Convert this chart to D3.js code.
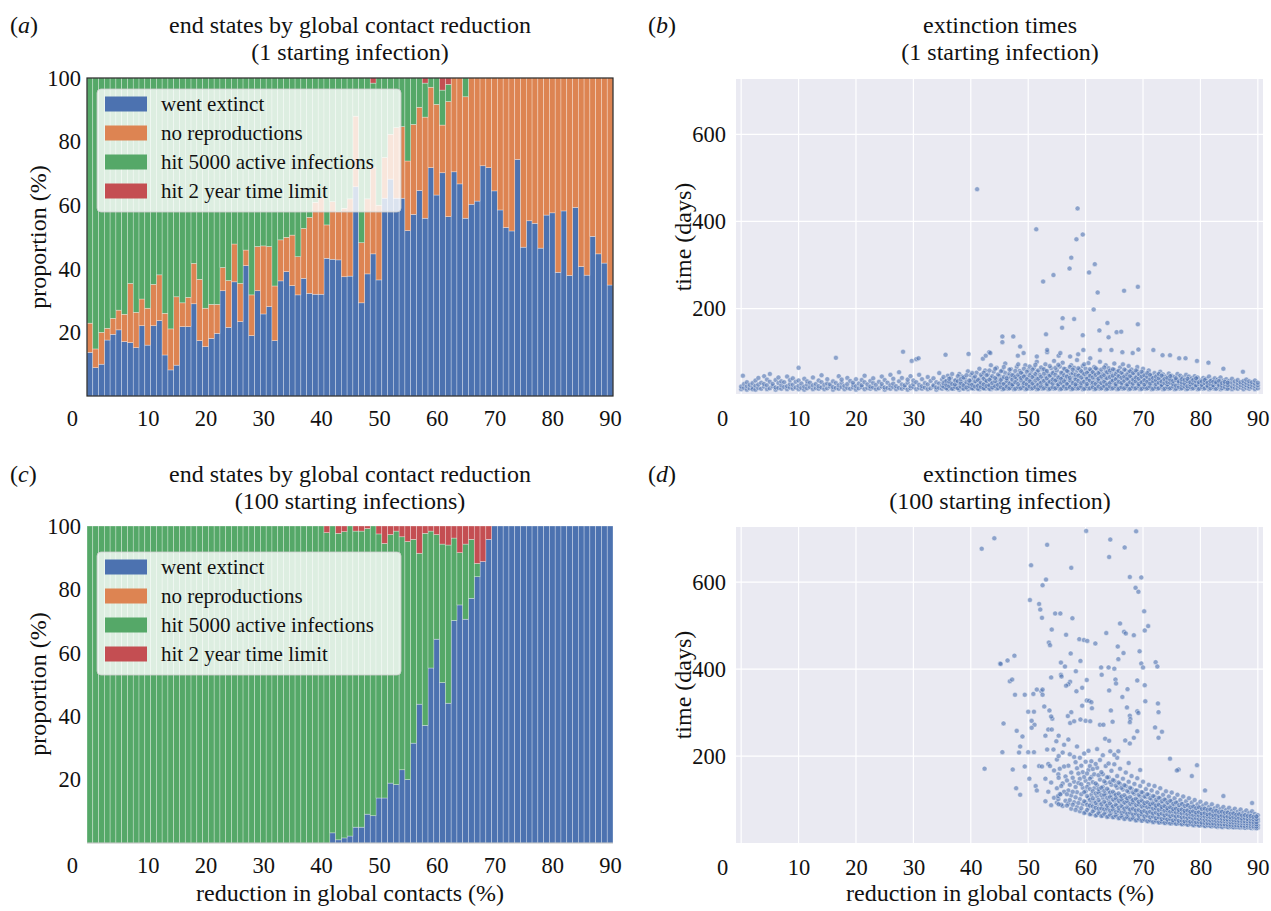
<!DOCTYPE html>
<html>
<head>
<meta charset="utf-8">
<script src="https://cdn.jsdelivr.net/npm/d3@7"></script>
<style>
body { margin: 0; background: #fff; }
svg text { font-family: "Liberation Serif", "DejaVu Serif", serif; fill: #111; }
</style>
</head>
<body>
<script>
// categories: % reduction in global contacts, one bar per value
var reduction = d3.range(0, 91);

var legendLabels = ["went extinct", "no reproductions", "hit 5000 active infections", "hit 2 year time limit"];
var keys = ["extinct", "noRepro", "hit5000", "timeLimit"];
var colorOf = { extinct: "#4c72b0", noRepro: "#dd8452", hit5000: "#55a868", timeLimit: "#c44e52" };

// (a) 1 starting infection, % of runs per end state
var aExtinct = [13.7,8.9,10.0,17.6,19.4,20.8,17.1,16.8,15.2,22.1,
16.0,22.1,23.7,12.9,8.2,9.7,21.8,21.8,29.0,17.4,
15.5,18.1,19.7,33.1,21.6,35.9,23.4,41.0,19.0,33.1,
25.8,28.1,17.4,36.2,39.1,34.7,31.8,37.0,32.3,32.0,
32.0,43.3,43.0,42.8,37.5,37.7,65.8,29.3,38.4,44.7,
36.5,62.2,68.2,62.2,62.2,52.0,57.1,64.6,55.9,71.8,
63.2,70.2,56.4,70.5,66.7,55.9,60.3,61.3,72.4,71.8,
64.5,58.5,53.0,51.9,74.4,46.8,55.1,54.3,46.5,56.9,
57.6,38.9,58.2,37.9,59.3,40.7,38.0,50.2,44.7,41.8,
34.9];
var aNoRepro = [9.2,5.9,10.0,3.7,5.0,6.2,8.6,18.6,11.1,8.4,
11.6,13.0,14.4,13.1,12.9,21.5,7.5,9.2,12.7,19.3,
12.1,10.7,9.1,7.3,14.7,11.9,12.0,4.9,12.8,13.9,
21.4,18.9,17.2,12.9,10.8,15.9,12.0,15.7,23.9,28.9,
30.4,10.5,18.1,15.2,21.5,24.3,22.2,18.9,23.6,27.3,
23.5,12.8,14.1,22.2,22.5,21.9,28.3,26.2,31.8,25.3,
28.5,15.0,36.2,29.5,33.3,38.2,39.7,38.7,27.6,28.2,
35.5,41.5,47.0,48.1,25.6,53.2,44.9,45.7,53.5,43.1,
42.4,61.1,41.8,62.1,40.7,59.3,62.0,49.8,55.3,58.2,
65.1];
var aHit5000 = [77.1,85.2,80.0,78.7,75.6,73.0,74.3,64.6,73.7,69.5,
72.4,64.9,61.9,74.0,78.9,68.8,70.7,69.0,58.3,63.3,
72.4,71.2,71.2,59.6,63.7,52.2,64.6,54.1,68.2,53.0,
52.8,53.0,65.4,50.9,50.1,49.4,56.2,47.3,43.8,39.1,
37.6,46.2,38.9,42.0,41.0,38.0,12.0,51.8,38.0,26.4,
40.0,25.0,17.7,15.6,15.3,26.1,14.6,9.2,10.7,2.9,
8.3,11.0,5.4,0,0,5.9,0,0,0,0,
0,0,0,0,0,0,0,0,0,0,
0,0,0,0,0,0,0,0,0,0,
0];
var aTimeLimit = [0,0,0,0,0,0,0,0,0,0,
0,0,0,0,0,0,0,0,0,0,
0,0,0,0,0,0,0,0,0,0,
0,0,0,0,0,0,0,0,0,0,
0,0,0,0,0,0,0,0,0,1.6,
0,0,0,0,0,0,0,0,1.6,0,
0,3.8,2.0,0,0,0,0,0,0,0,
0,0,0,0,0,0,0,0,0,0,
0,0,0,0,0,0,0,0,0,0,
0];

// (c) 100 starting infections
var cExtinct = [0,0,0,0,0,0,0,0,0,0,
0,0,0,0,0,0,0,0,0,0,
0,0,0,0,0,0,0,0,0,0,
0,0,0,0,0,0,0,0,0,0,
0,0,3.2,1.0,1.6,2.2,5.0,5.0,9.1,8.6,
14.2,14.2,18.9,18.4,23.1,20.0,31.5,43.8,37.1,55.2,
64.3,50.6,44.1,70.2,75.1,70.6,77.2,84.0,88.8,95.8,
100,100,100,100,100,100,100,100,100,100,
100,100,100,100,100,100,100,100,100,100,
100];
var cNoRepro = [0,0,0,0,0,0,0,0,0,0,
0,0,0,0,0,0,0,0,0,0,
0,0,0,0,0,0,0,0,0,0,
0,0,0,0,0,0,0,0,0,0,
0,0,0,0,0,0,0,0,0,0,
0,0,0,0,0,0,0,0,0,0,
0,0,0,0,0,0,0,0,0,0,
0,0,0,0,0,0,0,0,0,0,
0,0,0,0,0,0,0,0,0,0,
0];
var cHit5000 = [100,100,100,100,100,100,100,100,100,100,
100,100,100,100,100,100,100,100,100,100,
100,100,100,100,100,100,100,100,100,100,
100,100,100,100,100,100,100,100,100,100,
100,97.9,96.8,96.7,96.6,97.8,93.4,93.4,90.1,91.4,
83.3,80.3,78.4,80.0,73.5,75.1,64.3,47.6,60.6,43.2,
33.0,43.7,49.9,26.0,16.5,23.7,18.6,4.2,0,0,
0,0,0,0,0,0,0,0,0,0,
0,0,0,0,0,0,0,0,0,0,
0];
var cTimeLimit = [0,0,0,0,0,0,0,0,0,0,
0,0,0,0,0,0,0,0,0,0,
0,0,0,0,0,0,0,0,0,0,
0,0,0,0,0,0,0,0,0,0,
0,2.1,0,2.3,1.8,0,1.6,1.6,0.8,0,
2.5,5.5,2.7,1.6,3.4,4.9,4.2,8.6,2.3,1.6,
2.7,5.7,6.0,3.8,8.4,5.7,4.2,11.8,11.2,4.2,
0,0,0,0,0,0,0,0,0,0,
0,0,0,0,0,0,0,0,0,0,
0];

var xTicks = [0,10,20,30,40,50,60,70,80,90];
var pctTicks = [20,40,60,80,100];
var dayTicks = [200,400,600];

// (b) extinction times, 1 starting infection: [reduction, [days...]]
var bBand = [[0,[15,21]],[0.5,[18,27]],[1,[14,22,31]],[1.5,[17,25]],[2,[20,29,15]],[2.5,[14,23,35]],
[3,[18,26,41]],[3.5,[16,30]],[4,[21,27,45]],[4.5,[15,24,37]],[5,[17,32,50]],[5.5,[22,27]],
[6,[14,19,36]],[6.5,[18,29,42]],[7,[16,24,33]],[7.5,[20,31]],[8,[15,22,44]],[8.5,[19,27,36]],
[9,[16,25,40]],[9.5,[19,32]],[10,[15,23,35]],[10.5,[18,28]],[11,[14,21,39]],[11.5,[17,26,33]],
[12,[20,30]],[12.5,[15,24,42]],[13,[18,27]],[13.5,[16,22,35]],[14,[19,31,47]],[14.5,[15,25]],
[15,[17,28,38]],[15.5,[21,26]],[16,[14,20,33]],[16.5,[18,29]],[17,[16,24,45]],[17.5,[20,30,37]],
[18,[15,23]],[18.5,[18,27,41]],[19,[16,34]],[19.5,[19,25,30]],[20,[14,22,38]],[20.5,[17,28]],
[21,[20,24,36]],[21.5,[15,31,46]],[22,[18,26]],[22.5,[16,21,34]],[23,[19,29,40]],[23.5,[15,25]],
[24,[17,32]],[24.5,[21,27,44]],[25,[14,19,36]],[25.5,[18,30]],[26,[16,24,48]],[26.5,[20,28,39]],
[27,[15,22]],[27.5,[18,33,54]],[28,[16,26,41]],[28.5,[19,24]],[29,[14,30,37]],[29.5,[17,22,45]],
[30,[20,27,35]],[30.5,[15,31]],[31,[18,25,48]],[31.5,[16,22,38]],[32,[19,29]],[32.5,[15,26,43]],
[33,[17,34]],[33.5,[21,24,40]],[34,[14,19,31]],[34.5,[18,28,52]],[35,[16,23,37]],[35.5,[20,33]],
[36,[15,26,46]],[36.5,[18,30,41]],[37,[16,22]],[37.5,[19,28,36]],[38,[14,25,50]],[38.5,[17,31,44]],
[39,[20,26,39]],[39.5,[15,22,56]],[40,[18,29,35,47]],[40.5,[16,24,41]],[41,[19,31,53]],[41.5,[15,27,38,62]],
[42,[18,22,44]],[42.5,[16,30,36,58]],[43,[20,26,49]],[43.5,[15,33,41,70]],[44,[18,24,55]],[44.5,[16,28,38,64]],
[45,[21,32,46]],[45.5,[15,25,39,58]],[46,[18,29,52,74]],[46.5,[16,23,35,45]],[47,[19,31,42,61]],[47.5,[15,26,48]],
[48,[18,34,39,66]],[48.5,[16,22,44,57]],[49,[20,28,37,50]],[49.5,[15,32,46,70]],[50,[18,25,40,59]],[50.5,[16,30,36,52]],
[51,[19,24,45,64]],[51.5,[15,28,41,55,78]],[52,[18,33,48]],[52.5,[16,23,38,60]],[53,[20,29,44,56,72]],[53.5,[15,26,35,50]],
[54,[18,31,47,63]],[54.5,[16,22,40,54,80]],[55,[19,28,36,58]],[55.5,[15,33,45,67]],[56,[18,25,41,52,76]],[56.5,[16,30,38,61]],
[57,[20,27,46,55]],[57.5,[15,23,35,49,70]],[58,[18,32,43,64]],[58.5,[16,28,39,57,82]],[59,[19,24,48,60]],[59.5,[15,30,37,53,68]],
[60,[18,26,44,62]],[60.5,[16,33,40,55,75]],[61,[20,28,47,58]],[61.5,[15,24,36,51,66]],[62,[18,31,42,60]],[62.5,[16,27,45,54,78]],
[63,[19,23,38,50]],[63.5,[15,30,41,57,70]],[64,[18,26,48,63]],[64.5,[16,32,37,52]],[65,[20,28,44,59,74]],[65.5,[15,24,40,55]],
[66,[18,31,46,65]],[66.5,[16,27,36,50,72]],[67,[19,23,42,58]],[67.5,[15,30,39,54,68]],[68,[18,26,45,60]],[68.5,[16,33,37,51]],
[69,[20,28,43,57,66]],[69.5,[15,24,35,48]],[70,[18,31,41,53,62]],[70.5,[16,27,38,46]],[71,[19,23,34,50,58]],[71.5,[15,29,40,45]],
[72,[18,25,33,52]],[72.5,[16,31,38,47]],[73,[20,27,36,55]],[73.5,[15,23,42,49]],[74,[18,29,35,44]],[74.5,[16,26,39,51]],
[75,[19,32,37,46]],[75.5,[15,24,30,43]],[76,[18,28,35,50]],[76.5,[16,22,40,46]],[77,[19,27,33,42]],[77.5,[15,25,31,48]],
[78,[18,29,36,44]],[78.5,[16,23,34,40]],[79,[20,27,32,45]],[79.5,[15,24,38,42]],[80,[18,30,35]],[80.5,[16,22,28,41]],
[81,[19,26,33,39]],[81.5,[15,24,31,44]],[82,[18,21,29,36]],[82.5,[16,27,34,40]],[83,[19,23,30,37]],[83.5,[15,26,32,42]],
[84,[18,22,29,35]],[84.5,[16,25,31,38]],[85,[19,24,28,34]],[85.5,[15,21,30,39]],[86,[18,26,33]],[86.5,[16,23,29,36]],
[87,[19,25,31]],[87.5,[15,22,28,34]],[88,[18,24,30,37]],[88.5,[16,21,27,33]],[89,[19,25,31]],[89.5,[15,22,28,35]],
[90,[17,24,30]]];
var bBandMid = [[35.25,[21,29,43]],[35.75,[17,25,34]],[36.25,[22,32,39]],[36.75,[16,27,50]],[37.25,[20,26,35]],
[37.75,[17,33,45]],[38.25,[21,29,38]],[38.75,[16,24,42]],[39.25,[19,31,47]],[39.75,[22,28,35]],[40.25,[17,25,52]],
[40.75,[21,33,44]],[41.25,[16,23,36]],[41.75,[20,30,48]],[42.25,[17,26,39,53]],[42.75,[22,34,47]],[43.25,[16,24,37,58]],
[43.75,[19,29,45]],[44.25,[22,33,41,62]],[44.75,[17,25,49]],[45.25,[20,30,37,56]],[45.75,[16,27,43,66]],[46.25,[21,34,40]],
[46.75,[17,28,51,60]],[47.25,[22,26,37,47]],[47.75,[16,31,43,57]],[48.25,[20,27,48,72]],[48.75,[17,35,41,53]],
[49.25,[22,29,44,62]],[49.75,[16,26,38,55]],[50.25,[21,33,47,67]],[50.75,[17,28,43,60]],[51.25,[20,35,50,71]],
[51.75,[16,25,39,58]],[52.25,[21,30,44,65]],[52.75,[17,34,51,61]],[53.25,[22,27,40,57]],[53.75,[16,32,46,68]],
[54.25,[20,28,37,52]],[54.75,[17,35,48,64]],[55.25,[22,26,42,71]],[55.75,[16,30,39,53]],[56.25,[21,33,47,62]],
[56.75,[17,27,44,57]],[57.25,[20,35,41,66]],[57.75,[16,29,52,60]],[58.25,[22,26,38,48]],[58.75,[17,34,46,63]],
[59.25,[21,29,42,56]],[59.75,[16,32,50,72]],[60.25,[22,27,39,53]],[60.75,[17,35,46,61]],[61.25,[20,30,42,54]],
[61.75,[16,27,48,63]],[62.25,[21,34,39,52]],[62.75,[17,29,44,60]],[63.25,[22,32,47,65]],[63.75,[16,26,40,54]],
[64.25,[21,30,43,58]],[64.75,[17,35,46,61]],[65.25,[22,27,38,50]],[65.75,[16,32,45,57]],[66.25,[20,29,41,53]],
[66.75,[17,34,44,60]],[67.25,[22,26,39,49]],[67.75,[16,31,45,56]],[68.25,[21,28,37,52]],[68.75,[17,33,42,58]],
[69.25,[22,27,39,50]],[69.75,[16,31,44,55]],[70.25,[20,26,36,47]],[70.75,[17,32,43,52]],[71.25,[21,28,38,48]],
[71.75,[16,33,41]],[72.25,[20,27,36,44]],[72.75,[17,30,40,50]],[73.25,[21,25,33,46]],[73.75,[16,29,38]],
[74.25,[20,26,32,41]],[74.75,[17,30,37,45]],[75.25,[21,27,34]],[75.75,[16,23,36,40]],[76.25,[20,29,33]],
[76.75,[17,25,31,38]],[77.25,[21,28,36]],[77.75,[16,22,33,39]],[78.25,[20,26,31]],[78.75,[17,28,36]],
[79.25,[21,24,33,40]],[79.75,[16,27,31]],[80.25,[20,25,33]],[80.75,[17,29,36]],[81.25,[21,23,30]],[81.75,[17,27,34]],
[82.25,[20,24,32]],[82.75,[16,28,31]],[83.25,[21,25,34]],[83.75,[17,23,29]],[84.25,[20,27,32]],[84.75,[16,24,30]]];
var bOutliers = [[0.3,46],[10,64],[16.5,87],[28.2,101],[29.7,80],[30.5,84],[30.9,86],[35.6,94],[39.6,96],
[41.1,474],[42.1,85],[42.6,92],[43.2,100],[43.4,98],[45.5,136],[45.5,123],[47.4,136],[48.6,113],[49.2,98],
[48.2,92],[51.5,90],[53.3,100],[53.3,105],[55.3,92],[55.6,98],[57.3,90],[58.7,95],[59.6,105],[60.8,86],
[62.5,105],[64.5,105],[66.4,100],[68.2,98],[69.2,106],[71.8,105],[73.4,93],[74.7,93],[76.3,86],[77.4,86],
[79.4,80],[81.4,76],[84,62],[87.4,55],
[51.4,382],[58.6,430],[59.5,370],[58.4,359],[57.5,317],[57.2,292],[61.6,302],[60.6,283],[54.4,277],
[52.6,262],[62.1,237],[66.7,241],[69.1,250],[61.4,198],[56.0,178],[58.0,176],[55.9,156],[63.8,167],
[69.1,164],[53.1,141],[59.5,139],[62.4,150],[64.0,134],[65.4,146],[66.2,147]];

// (d) extinction times, 100 starting infections
var dBand = [[53,[96,148]],[53.5,[118,182]],[54,[87,139]],[54.5,[104,167]],[55,[93,126,192]],[55.5,[113,171]],
[56,[85,137,208]],[56.5,[97,153]],[57,[91,121,178,238]],[57.5,[79,109,162]],[58,[94,141,198]],[58.5,[83,117,172,222]],
[59,[73,101,148,196]],[59.5,[89,127,163]],[60,[71,94,119,143,187]],[60.5,[81,104,136,168,212]],[61,[67,91,111,152,188]],
[61.5,[76,97,126,158]],[62,[65,87,107,133,173,216]],[62.5,[73,94,119,146,191]],[63,[63,83,103,129,158,202]],
[63.5,[71,91,113,138,177]],[64,[61,81,97,121,151,183]],[64.5,[69,87,109,134,166]],[65,[60,77,97,114,143,181]],
[65.5,[65,86,103,127,154,196]],[66,[58,75,93,109,136,171]],[66.5,[63,83,99,123,148]],[67,[57,71,91,105,131,162]],
[67.5,[61,79,97,117,141,184]],[68,[55,69,87,101,125,154]],[68.5,[59,77,93,113,136]],[69,[53,67,85,99,121,149]],
[69.5,[57,73,91,107,131,168]],[70,[52,65,81,95,116,141]],[70.5,[55,71,87,105,124]],[71,[50,63,79,91,111,134]],
[71.5,[53,69,85,99,121]],[72,[49,61,77,89,107,131]],[72.5,[52,66,83,95,116]],[73,[47,59,75,87,103,126]],
[73.5,[50,64,80,92,111]],[74,[46,57,73,84,99,119]],[74.5,[49,62,77,89,107]],[75,[45,56,71,81,96,116]],
[75.5,[47,60,75,86,103]],[76,[44,54,68,79,93,111]],[76.5,[46,58,72,83,99]],[77,[43,53,66,76,90,107]],
[77.5,[45,56,70,80,96]],[78,[42,51,64,74,87,103]],[78.5,[44,55,68,77,93]],[79,[41,50,62,71,84,99]],
[79.5,[43,53,66,75,89]],[80,[40,49,61,69,81,95]],[80.5,[42,52,64,73,86]],[81,[39,47,59,67,79,91]],
[81.5,[41,50,62,70,83]],[82,[38,46,57,65,77,89]],[82.5,[40,49,60,68,80]],[83,[37,45,56,63,75,85]],
[83.5,[39,48,59,66,78]],[84,[37,44,54,61,73,83]],[84.5,[38,47,57,64,76]],[85,[36,43,53,59,71,81]],
[85.5,[37,46,56,62,74]],[86,[36,42,52,58,69,79]],[86.5,[37,45,55,61,72]],[87,[35,41,51,57,67,77]],
[87.5,[36,44,54,60,70]],[88,[35,41,50,56,66,75]],[88.5,[36,43,53,59,69]],[89,[34,40,49,55,65,73]],
[89.5,[35,42,52,58,67]],[90,[35,41,50,55,64]]];
var dBandMid = [[55.25,[101,158]],[55.75,[88,131]],[56.25,[118,176,226]],[56.75,[86,112,144]],[57.25,[99,134,204]],
[57.75,[88,118,150]],[58.25,[76,105,129,186]],[58.75,[92,138,160]],[59.25,[80,112,135,178]],[59.75,[69,96,117,152,206]],
[60.25,[76,88,108,129,160]],[60.75,[66,86,99,124,148,177]],[61.25,[73,84,103,119,140,170]],[61.75,[63,81,92,114,137,182]],
[62.25,[69,79,99,116,124,156]],[62.75,[62,80,89,110,127,163]],[63.25,[67,77,95,111,120,142]],[63.75,[60,79,86,104,125,151]],
[64.25,[65,74,91,106,116,140]],[64.75,[59,77,84,100,118,145]],[65.25,[63,71,88,103,111,132]],[65.75,[57,74,81,97,114,139]],
[66.25,[61,69,85,100,107,127]],[66.75,[55,72,79,93,110,133]],[67.25,[59,67,82,96,103,120]],[67.75,[54,70,77,90,106,127]],
[68.25,[57,65,79,93,99,116]],[68.75,[52,68,75,87,102,121]],[69.25,[56,63,76,89,95,111]],[69.75,[51,66,72,84,98,117]],
[70.25,[54,61,74,86,92,107]],[70.75,[50,63,70,82,94,112]],[71.25,[52,59,72,83,89,103]],[71.75,[48,61,68,79,91,108]],
[72.25,[51,57,70,80,86,99]],[72.75,[47,59,66,76,88,104]],[73.25,[49,55,68,78,83,96]],[73.75,[46,57,64,74,85,100]],
[74.25,[48,54,66,75,80,93]],[74.75,[45,55,62,72,82,97]],[75.25,[47,52,64,73,78,90]],[75.75,[44,54,61,70,79,93]],
[76.25,[46,51,62,71,76,87]],[76.75,[43,52,59,68,77,90]],[77.25,[45,50,60,69,74,85]],[77.75,[42,51,58,66,75,87]],
[78.25,[44,49,59,67,72,82]],[78.75,[41,49,56,64,73,84]],[79.25,[43,48,57,65,70,80]],[79.75,[40,48,55,63,71,82]],
[80.25,[42,47,56,63,68,78]],[80.75,[39,46,53,61,69,79]],[81.25,[41,46,54,61,66,76]],[81.75,[39,45,52,59,67,77]],
[82.25,[40,45,53,59,64,73]],[82.75,[38,44,51,58,65,74]],[83.25,[39,44,51,57,62,71]],[83.75,[37,43,50,56,63,72]],
[84.25,[39,43,50,55,61,69]],[84.75,[37,42,49,54,61,70]],[85.25,[38,42,48,54,59,67]],[85.75,[36,41,47,53,60,68]],
[86.25,[37,41,47,52,58,65]],[86.75,[36,40,46,51,58,66]],[87.25,[37,40,46,51,56,63]],[87.75,[35,39,45,50,57,64]],
[88.25,[36,40,45,50,55,62]],[88.75,[35,39,44,49,56,62]],[89.25,[36,39,44,48,54,60]],[89.75,[34,38,43,48,55,61]]];
var dOutliers = [[41.9,677],[44.1,701],[42.4,171],[45.1,413],[53.3,686],[60.1,718],[68.8,717],[64.3,698],[66.8,680],
[50.5,639],[57.5,633],[64.1,658],[53.1,606],[52.5,593],[67.7,612],[69.7,611],[68.7,587],[69.2,578],[50.3,559],
[51.9,550],[52.1,537],[52.4,518],[70.2,533],[70.9,499],[70.3,489],[54.7,528],[55.6,528],[57.7,517],[54.1,491],
[53.6,461],[53.8,455],[56.6,479],[58.9,469],[59.7,467],[60.3,465],[61.7,459],[63.6,483],[66.0,505],[66.7,486],
[67.0,482],[68.4,478],[65.6,452],[66.6,437],[65.7,423],[69.4,441],[69.7,413],[70.0,404],[72.2,416],[72.5,406],
[57.4,436],[55.7,415],[56.4,406],[58.3,395],[59.1,419],[62.7,404],[64.0,404],[65.0,401],[60.2,375],[57.3,371],
[57.0,365],[56.6,362],[55.7,387],[55.8,383],[54.0,381],[58.4,349],[59.4,357],[62.8,387],[65.2,376],[65.3,367],
[64.1,351],[67.3,354],[69.0,374],[70.3,363],[66.4,336],[45.2,412],[46.4,420],[47.6,431],[46.8,372],[47.2,376],
[47.7,341],[49.4,341],[50.9,343],[52.3,349],[52.5,341],[45.7,275],[45.5,209],[47.3,169],[47.9,126],[48.6,111],
[48.0,258],[49.0,245],[48.6,222],[48.4,208],[50.0,302],[51.0,302],[50.6,281],[51.1,272],[50.6,265],[51.5,353],
[52.5,353],[50.0,209],[51.0,209],[49.4,176],[51.9,177],[52.4,176],[50.2,148],[51.3,131],[51.5,121],[52.8,314],
[53.7,305],[54.2,286],[54.0,291],[53.5,261],[54.1,261],[53.0,247],[55.3,247],[53.3,215],[54.4,215],[54.9,234],
[55.3,200],[53.8,177],[55.3,150],[55.2,108],[55.6,112],[55.3,89],[56.9,292],[57.5,301],[57.3,276],[58.0,280],
[59.4,316],[60.2,328],[60.6,327],[61.0,324],[61.1,310],[59.1,284],[60.0,281],[60.8,280],[62.5,272],[63.1,272],
[64.4,305],[64.7,279],[63.4,240],[64.1,235],[67.2,312],[67.7,293],[67.8,285],[67.7,278],[69.0,303],[69.2,299],
[70.4,326],[72.6,321],[72.7,301],[72.1,266],[73.3,256],[72.7,242],[68.4,242],[69.0,257],[66.9,236],[67.7,229],
[65.7,211],[64.3,211],[65.0,203],[76.2,169],[78.5,154],[79.4,179],[74.7,194],[75.9,167],[80.8,121],[84.0,108],[89.0,92]];

var svg = d3.select("body").append("svg").attr("width", 1271).attr("height", 911);

function styleAxis(g) {
    g.attr("font-family", null).attr("font-size", null);
    g.select(".domain").remove();
    g.selectAll("text").style("font-size", "22.5px").attr("fill", "#111");
}

function panelLabel(x, y, letter) {
    var t = svg.append("text").attr("x", x).attr("y", y).style("font-size", "24px");
    t.append("tspan").text("(");
    t.append("tspan").style("font-style", "italic").text(letter);
    t.append("tspan").text(")");
}

function titleLines(cx, y, lines) {
    lines.forEach(function(s, i) {
        svg.append("text").attr("x", cx).attr("y", y + i * 27)
            .attr("text-anchor", "middle").style("font-size", "24px").text(s);
    });
}

function yLabel(x, cy, s) {
    svg.append("text").attr("transform", "translate(" + x + "," + cy + ") rotate(-90)")
        .attr("text-anchor", "middle").style("font-size", "24px").text(s);
}

function drawBars(box, series) {
    var x = d3.scaleLinear().domain([-0.5, 90.5]).range([box.left, box.right]);
    var y = d3.scaleLinear().domain([0, 100]).range([box.bottom, box.top]);

    var rows = reduction.map(function(r, i) {
        return { r: r, extinct: series[0][i], noRepro: series[1][i], hit5000: series[2][i], timeLimit: series[3][i] };
    });
    var stacked = d3.stack().keys(keys)(rows);

    svg.append("g").selectAll("g").data(stacked).enter().append("g")
        .attr("fill", function(d) { return colorOf[d.key]; })
        .selectAll("rect")
        .data(function(d) { return d.filter(function(v) { return v[1] - v[0] > 0; }); })
        .enter().append("rect")
        .attr("x", function(d) { return x(d.data.r - 0.5); })
        .attr("width", function(d) { return x(d.data.r + 0.5) - x(d.data.r - 0.5); })
        .attr("y", function(d) { return y(d[1]); })
        .attr("height", function(d) { return y(d[0]) - y(d[1]); })
        .attr("stroke", "#fff")
        .attr("stroke-width", 0.6)
        .attr("stroke-opacity", 0.5);

    // legend
    var lg = svg.append("g").attr("transform", "translate(" + (box.left + 10) + "," + (box.top + box.legendTop) + ")");
    lg.append("rect").attr("width", 304).attr("height", 123).attr("rx", 4)
        .attr("fill", "#fff").attr("fill-opacity", 0.8)
        .attr("stroke", "#ccc").attr("stroke-opacity", 0.8);
    keys.forEach(function(k, i) {
        var cy = 15 + i * 29;
        lg.append("rect").attr("x", 8).attr("y", cy - 7.5).attr("width", 42).attr("height", 15)
            .attr("fill", colorOf[k]);
        lg.append("text").attr("x", 64).attr("y", cy).attr("dy", "0.35em")
            .style("font-size", "21px").text(legendLabels[i]);
    });

    if (box.frame) {
        svg.append("rect").attr("x", box.left).attr("y", box.top)
            .attr("width", box.right - box.left).attr("height", box.bottom - box.top)
            .attr("fill", "none").attr("stroke", "#262626").attr("stroke-width", 1.2);
    } else {
        svg.append("line").attr("x1", box.left).attr("x2", box.right)
            .attr("y1", box.bottom).attr("y2", box.bottom)
            .attr("stroke", "#bdbdbd").attr("stroke-width", 1);
    }

    svg.append("g").attr("transform", "translate(" + box.left + ",0)")
        .call(d3.axisLeft(y).tickValues(pctTicks).tickSize(0).tickPadding(6))
        .call(styleAxis);

    svg.append("g").attr("transform", "translate(0," + box.bottom + ")")
        .call(d3.axisBottom(x).tickValues(xTicks).tickSize(0).tickPadding(14))
        .call(styleAxis)
        .selectAll("text").attr("dx", function(d) { return d === 0 ? -18 : 0; });
}

function drawScatter(box, yDomain, bands, outliers) {
    var x = d3.scaleLinear().domain([-0.9, 90.9]).range([box.left, box.right]);
    var y = d3.scaleLinear().domain(yDomain).range([box.bottom, box.top]);

    svg.append("rect").attr("x", box.left).attr("y", box.top)
        .attr("width", box.right - box.left).attr("height", box.bottom - box.top)
        .attr("fill", "#eaeaf2");

    var grid = svg.append("g").attr("stroke", "#fff").attr("stroke-width", 1.2);
    xTicks.forEach(function(v) {
        grid.append("line").attr("x1", x(v)).attr("x2", x(v)).attr("y1", box.top).attr("y2", box.bottom);
    });
    dayTicks.forEach(function(v) {
        grid.append("line").attr("x1", box.left).attr("x2", box.right).attr("y1", y(v)).attr("y2", y(v));
    });

    var pts = [];
    bands.forEach(function(band) {
        band.forEach(function(row) {
            row[1].forEach(function(v) { pts.push([row[0], v]); });
        });
    });
    pts = pts.concat(outliers);

    svg.append("g").selectAll("circle").data(pts).enter().append("circle")
        .attr("cx", function(d) { return x(d[0]); })
        .attr("cy", function(d) { return y(d[1]); })
        .attr("r", 2.5)
        .attr("fill", "#4c72b0").attr("fill-opacity", 0.6)
        .attr("stroke", "#fff").attr("stroke-width", 0.5).attr("stroke-opacity", 0.8);

    svg.append("g").attr("transform", "translate(" + box.left + ",0)")
        .call(d3.axisLeft(y).tickValues(dayTicks).tickSize(0).tickPadding(10))
        .call(styleAxis);

    svg.append("g").attr("transform", "translate(0," + box.bottom + ")")
        .call(d3.axisBottom(x).tickValues(xTicks).tickSize(0).tickPadding(16))
        .call(styleAxis)
        .selectAll("text").attr("dx", function(d) { return d === 0 ? -19 : 0; });
}

// (a)
panelLabel(10, 33, "a");
titleLines(350, 33, ["end states by global contact reduction", "(1 starting infection)"]);
drawBars({ left: 87, right: 613, top: 78, bottom: 396, legendTop: 11, frame: true },
    [aExtinct, aNoRepro, aHit5000, aTimeLimit]);
yLabel(46, 237, "proportion (%)");

// (b)
panelLabel(648, 33, "b");
titleLines(1000, 33, ["extinction times", "(1 starting infection)"]);
drawScatter({ left: 736, right: 1263, top: 79, bottom: 394 }, [4, 727], [bBand, bBandMid], bOutliers);
yLabel(691, 237, "time (days)");

// (c)
panelLabel(10, 482, "c");
titleLines(350, 482, ["end states by global contact reduction", "(100 starting infections)"]);
drawBars({ left: 87, right: 613, top: 526, bottom: 843, legendTop: 26, frame: false },
    [cExtinct, cNoRepro, cHit5000, cTimeLimit]);
yLabel(46, 684, "proportion (%)");
svg.append("text").attr("x", 350).attr("y", 901).attr("text-anchor", "middle")
    .style("font-size", "24px").text("reduction in global contacts (%)");

// (d)
panelLabel(648, 482, "d");
titleLines(1000, 482, ["extinction times", "(100 starting infection)"]);
drawScatter({ left: 736, right: 1263, top: 527, bottom: 843 }, [0, 727], [dBand, dBandMid], dOutliers);
yLabel(691, 685, "time (days)");
svg.append("text").attr("x", 1000).attr("y", 901).attr("text-anchor", "middle")
    .style("font-size", "24px").text("reduction in global contacts (%)");
</script>
</body>
</html>
